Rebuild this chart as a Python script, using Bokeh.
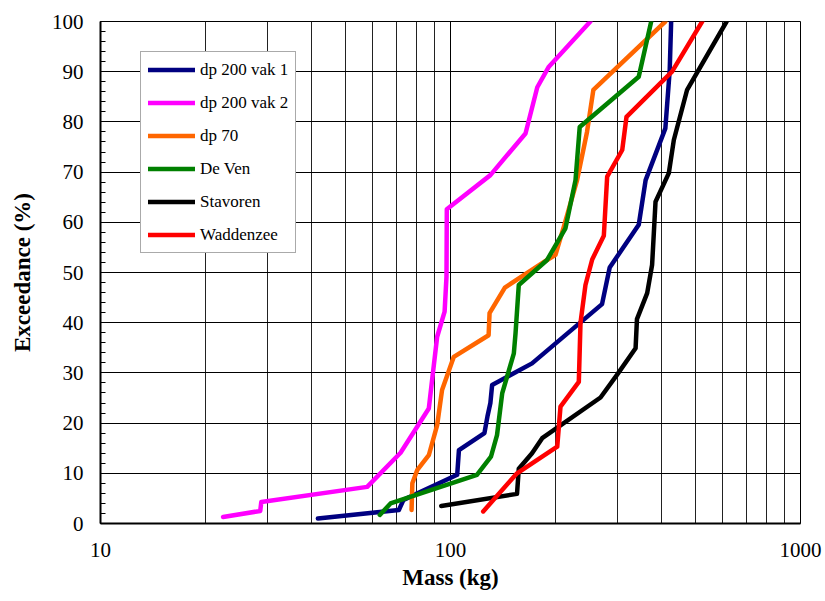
from bokeh.plotting import figure
from bokeh.models import FixedTicker, NumeralTickFormatter, Legend, LegendItem
from bokeh.embed import file_html
from bokeh.resources import INLINE

# ---- data (mass in kg, exceedance in %) ----
vak1_mass = [41.8, 71.2, 73.4, 104.5, 105.7, 125, 127.5, 130, 131.5, 171, 271, 285, 345, 361, 411, 423, 427]
vak1_exc = [1.0, 2.7, 4.7, 9.7, 14.6, 18.0, 21.3, 24.0, 27.6, 31.9, 43.7, 51.0, 59.5, 68.4, 78.7, 90.3, 100]

vak2_mass = [22.4, 28.6, 28.8, 57.8, 72, 86.7, 88.6, 91.6, 96.2, 97.4, 97.6, 130, 163.8, 177, 191, 251]
vak2_exc = [1.3, 2.5, 4.3, 7.3, 14.1, 22.9, 28.6, 37.2, 42.2, 49.2, 62.6, 69.4, 77.7, 86.9, 91.0, 100]

dp70_mass = [77.4, 77.8, 80.4, 86.7, 91.6, 94.6, 102.2, 128.5, 129.3, 143, 188.8, 199.5, 210.7, 230, 245.5, 256, 411]
dp70_exc = [2.7, 8.0, 10.7, 13.6, 19.6, 26.6, 33.2, 37.5, 41.9, 47.0, 52.5, 53.5, 59.1, 68.4, 78.0, 86.4, 100]

deven_mass = [62.8, 67.4, 119, 130.5, 135.8, 140.5, 151.7, 153.4, 156.7, 188.8, 213, 227.6, 234, 345, 374.5]
deven_exc = [1.7, 4.0, 9.7, 13.3, 17.6, 25.9, 33.9, 37.9, 47.5, 52.5, 58.8, 68.4, 79.0, 89.0, 100]

stav_mass = [94.1, 154.9, 156.7, 171, 182.8, 268.3, 299, 337.9, 341, 364.7, 376.7, 385.3, 420.5, 434.6, 474.3, 615]
stav_exc = [3.5, 5.9, 10.9, 14.0, 17.0, 25.1, 29.6, 34.9, 40.7, 45.9, 51.5, 64.1, 69.8, 76.4, 86.4, 100]

wad_mass = [124, 154.9, 201.8, 206.2, 232.6, 235.2, 243, 254, 274.2, 280.3, 309.5, 318.3, 429.5, 523.8]
wad_exc = [2.4, 10.0, 15.3, 23.3, 28.2, 40.0, 47.5, 52.6, 57.3, 69.1, 74.4, 81.0, 90.0, 100]

series_names = ["dp 200 vak 1", "dp 200 vak 2", "dp 70", "De Ven", "Stavoren", "Waddenzee"]
series_colors = ["#000080", "#FF00FF", "#FF6600", "#008000", "#000000", "#FF0000"]
series_data = [(vak1_mass, vak1_exc), (vak2_mass, vak2_exc), (dp70_mass, dp70_exc),
               (deven_mass, deven_exc), (stav_mass, stav_exc), (wad_mass, wad_exc)]

x_major = [10, 100, 1000]
x_minor = [20, 30, 40, 50, 60, 70, 80, 90, 200, 300, 400, 500, 600, 700, 800, 900]
y_major = list(range(0, 101, 10))
y_minor = list(range(0, 101, 2))

FONT = "Liberation Serif"

p = figure(width=825, height=601, x_axis_type="log", x_range=(10, 1000), y_range=(0, 100),
           output_backend="svg", toolbar_location=None,
           min_border_left=100, min_border_right=25, min_border_top=21, min_border_bottom=78)
p.background_fill_color = "white"
p.border_fill_color = "white"
p.outline_line_color = "black"
p.outline_line_width = 1

# x axis
p.xaxis.ticker = FixedTicker(ticks=x_major, minor_ticks=x_minor)
p.xaxis.formatter = NumeralTickFormatter(format="0")
p.xaxis.major_tick_in = 0
p.xaxis.major_tick_out = 0
p.xaxis.minor_tick_in = 0
p.xaxis.minor_tick_out = 0
p.xaxis.major_label_standoff = 19
p.xaxis.axis_label = "Mass (kg)"
p.xaxis.axis_label_standoff = 5

# y axis
p.yaxis.ticker = FixedTicker(ticks=y_major, minor_ticks=y_minor)
p.yaxis.major_tick_in = 6
p.yaxis.major_tick_out = 0
p.yaxis.minor_tick_in = 5
p.yaxis.minor_tick_out = 0
p.yaxis.major_label_standoff = 17
p.yaxis.axis_label = "Exceedance (%)"
p.yaxis.axis_label_standoff = 14

for ax in (p.xaxis, p.yaxis):
    ax.axis_line_color = "black"
    ax.axis_line_width = 2
    ax.major_tick_line_color = "black"
    ax.minor_tick_line_color = "black"
    ax.major_label_text_font = FONT
    ax.major_label_text_font_size = "21px"
    ax.major_label_text_color = "black"
    ax.axis_label_text_font = FONT
    ax.axis_label_text_font_size = "23px"
    ax.axis_label_text_font_style = "bold"
    ax.axis_label_text_color = "black"

# grids
p.xgrid.grid_line_color = "black"
p.xgrid.grid_line_width = 1
p.xgrid.minor_grid_line_color = "#222222"
p.xgrid.minor_grid_line_width = 1
p.ygrid.grid_line_color = "black"
p.ygrid.grid_line_width = 1

items = []
for name, color, (xs, ys) in zip(series_names, series_colors, series_data):
    r = p.line(xs, ys, line_color=color, line_width=4.5, line_cap="round", line_join="round")
    items.append(LegendItem(label=name, renderers=[r]))

legend = Legend(items=items, location=(40, 270))
legend.label_text_font = FONT
legend.label_text_font_size = "17px"
legend.label_text_font_style = "normal"
legend.label_text_color = "black"
legend.glyph_width = 47
legend.glyph_height = 21
legend.label_height = 21
legend.label_standoff = 5
legend.spacing = 12
legend.padding = 7
legend.margin = 0
legend.border_line_color = "#555555"
legend.border_line_width = 1.5
legend.background_fill_color = "white"
legend.background_fill_alpha = 1
p.add_layout(legend, "center")

open("out.html", "w").write(file_html(p, INLINE))
